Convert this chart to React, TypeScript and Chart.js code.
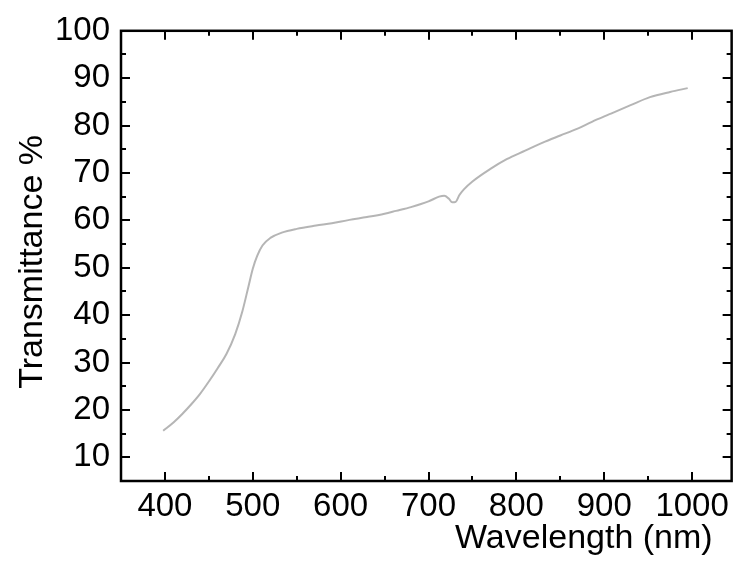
import React, { useEffect, useRef } from 'react';
import { Chart, registerables } from 'chart.js';

Chart.register(...registerables);

const wavelengths = [398, 410, 420, 430, 440, 450, 460, 470, 480, 488, 495, 500, 505, 511, 520, 533, 550, 572, 590, 610, 630, 650, 663, 680, 700, 712, 718, 723, 727, 731, 735, 740, 750, 770, 789, 810, 830, 850, 869, 886, 906, 930, 952, 975, 995];
const transmittance = [15.6, 17.4, 19.2, 21.2, 23.4, 26.0, 28.8, 31.8, 36.0, 40.7, 46.0, 49.8, 52.5, 54.7, 56.3, 57.4, 58.2, 58.9, 59.4, 60.1, 60.7, 61.4, 62.0, 62.8, 64.0, 65.0, 65.2, 64.6, 63.8, 63.9, 65.3, 66.5, 68.2, 70.8, 72.9, 74.7, 76.4, 77.9, 79.3, 80.8, 82.4, 84.3, 86.0, 87.1, 87.9];

const xMajorTicks = [400, 500, 600, 700, 800, 900, 1000];
const xMinorTicks = [450, 550, 650, 750, 850, 950];
const yMajorTicks = [10, 20, 30, 40, 50, 60, 70, 80, 90, 100];
const yMinorTicks = [15, 25, 35, 45, 55, 65, 75, 85, 95];

const xTitle = 'Wavelength (nm)';
const yTitle = 'Transmittance %';

const FONT_FAMILY = '"Liberation Sans", Arial, Helvetica, sans-serif';

const framePlugin = {
  id: 'framePlugin',
  afterDraw(chart: any) {
    const { ctx, chartArea, scales } = chart;
    const { left, right, top, bottom } = chartArea;
    const xs = scales.x;
    const ys = scales.y;
    ctx.save();
    ctx.strokeStyle = '#000';
    ctx.lineWidth = 2.5;
    ctx.strokeRect(left, top, right - left, bottom - top);
    ctx.lineWidth = 2;
    const major = 9;
    const minor = 5;
    const drawX = (v: number, len: number) => {
      const px = Math.round(xs.getPixelForValue(v));
      ctx.beginPath();
      ctx.moveTo(px, bottom);
      ctx.lineTo(px, bottom - len);
      ctx.moveTo(px, top);
      ctx.lineTo(px, top + len);
      ctx.stroke();
    };
    const drawY = (v: number, len: number) => {
      const py = Math.round(ys.getPixelForValue(v));
      ctx.beginPath();
      ctx.moveTo(left, py);
      ctx.lineTo(left + len, py);
      ctx.moveTo(right, py);
      ctx.lineTo(right - len, py);
      ctx.stroke();
    };
    xMajorTicks.forEach((v) => drawX(v, major));
    xMinorTicks.forEach((v) => drawX(v, minor));
    yMajorTicks.forEach((v) => { if (v < 100) drawY(v, major); });
    yMinorTicks.forEach((v) => drawY(v, minor));

    ctx.fillStyle = '#000';
    ctx.font = `34px ${FONT_FAMILY}`;
    ctx.textAlign = 'right';
    ctx.textBaseline = 'alphabetic';
    ctx.fillText(xTitle, right - 19, bottom + 67);

    ctx.translate(42, (top + bottom) / 2 + 6);
    ctx.rotate(-Math.PI / 2);
    ctx.textAlign = 'center';
    ctx.fillText(yTitle, 0, 0);
    ctx.restore();
  },
};

export default function App() {
  const ref = useRef<HTMLCanvasElement>(null);
  useEffect(() => {
    document.body.style.margin = '0';
    const canvas = ref.current;
    if (!canvas) return;
    const chart = new Chart(canvas, {
      type: 'line',
      data: {
        datasets: [
          {
            data: wavelengths.map((w, i) => ({ x: w, y: transmittance[i] })),
            borderColor: 'rgba(120,120,120,0.55)',
            borderWidth: 2,
            pointRadius: 0,
            fill: false,
            cubicInterpolationMode: 'monotone',
          },
        ],
      },
      options: {
        responsive: false,
        animation: false,
        layout: { padding: { top: 26, right: 3, left: 0, bottom: 0 } },
        plugins: { legend: { display: false }, tooltip: { enabled: false } },
        scales: {
          x: {
            type: 'linear',
            min: 350,
            max: 1045,
            afterBuildTicks: (s: any) => {
              s.ticks = xMajorTicks.map((v) => ({ value: v }));
            },
            afterFit: (s: any) => {
              s.height = 89;
            },
            grid: { display: false, drawTicks: false },
            border: { display: false },
            ticks: {
              color: '#000',
              font: { family: FONT_FAMILY, size: 33 },
              padding: 6,
              maxRotation: 0,
              autoSkip: false,
              callback: (v: any) => String(v),
            },
          },
          y: {
            type: 'linear',
            min: 5,
            max: 100,
            afterBuildTicks: (s: any) => {
              s.ticks = yMajorTicks.map((v) => ({ value: v }));
            },
            afterFit: (s: any) => {
              s.width = 121;
            },
            grid: { display: false, drawTicks: false },
            border: { display: false },
            ticks: {
              color: '#000',
              font: { family: FONT_FAMILY, size: 33 },
              padding: 11,
              autoSkip: false,
              callback: (v: any) => String(v),
            },
          },
        },
      },
      plugins: [framePlugin],
    } as any);
    return () => chart.destroy();
  }, []);
  return <canvas ref={ref} width={735} height={570} style={{ display: 'block' }} />;
}
